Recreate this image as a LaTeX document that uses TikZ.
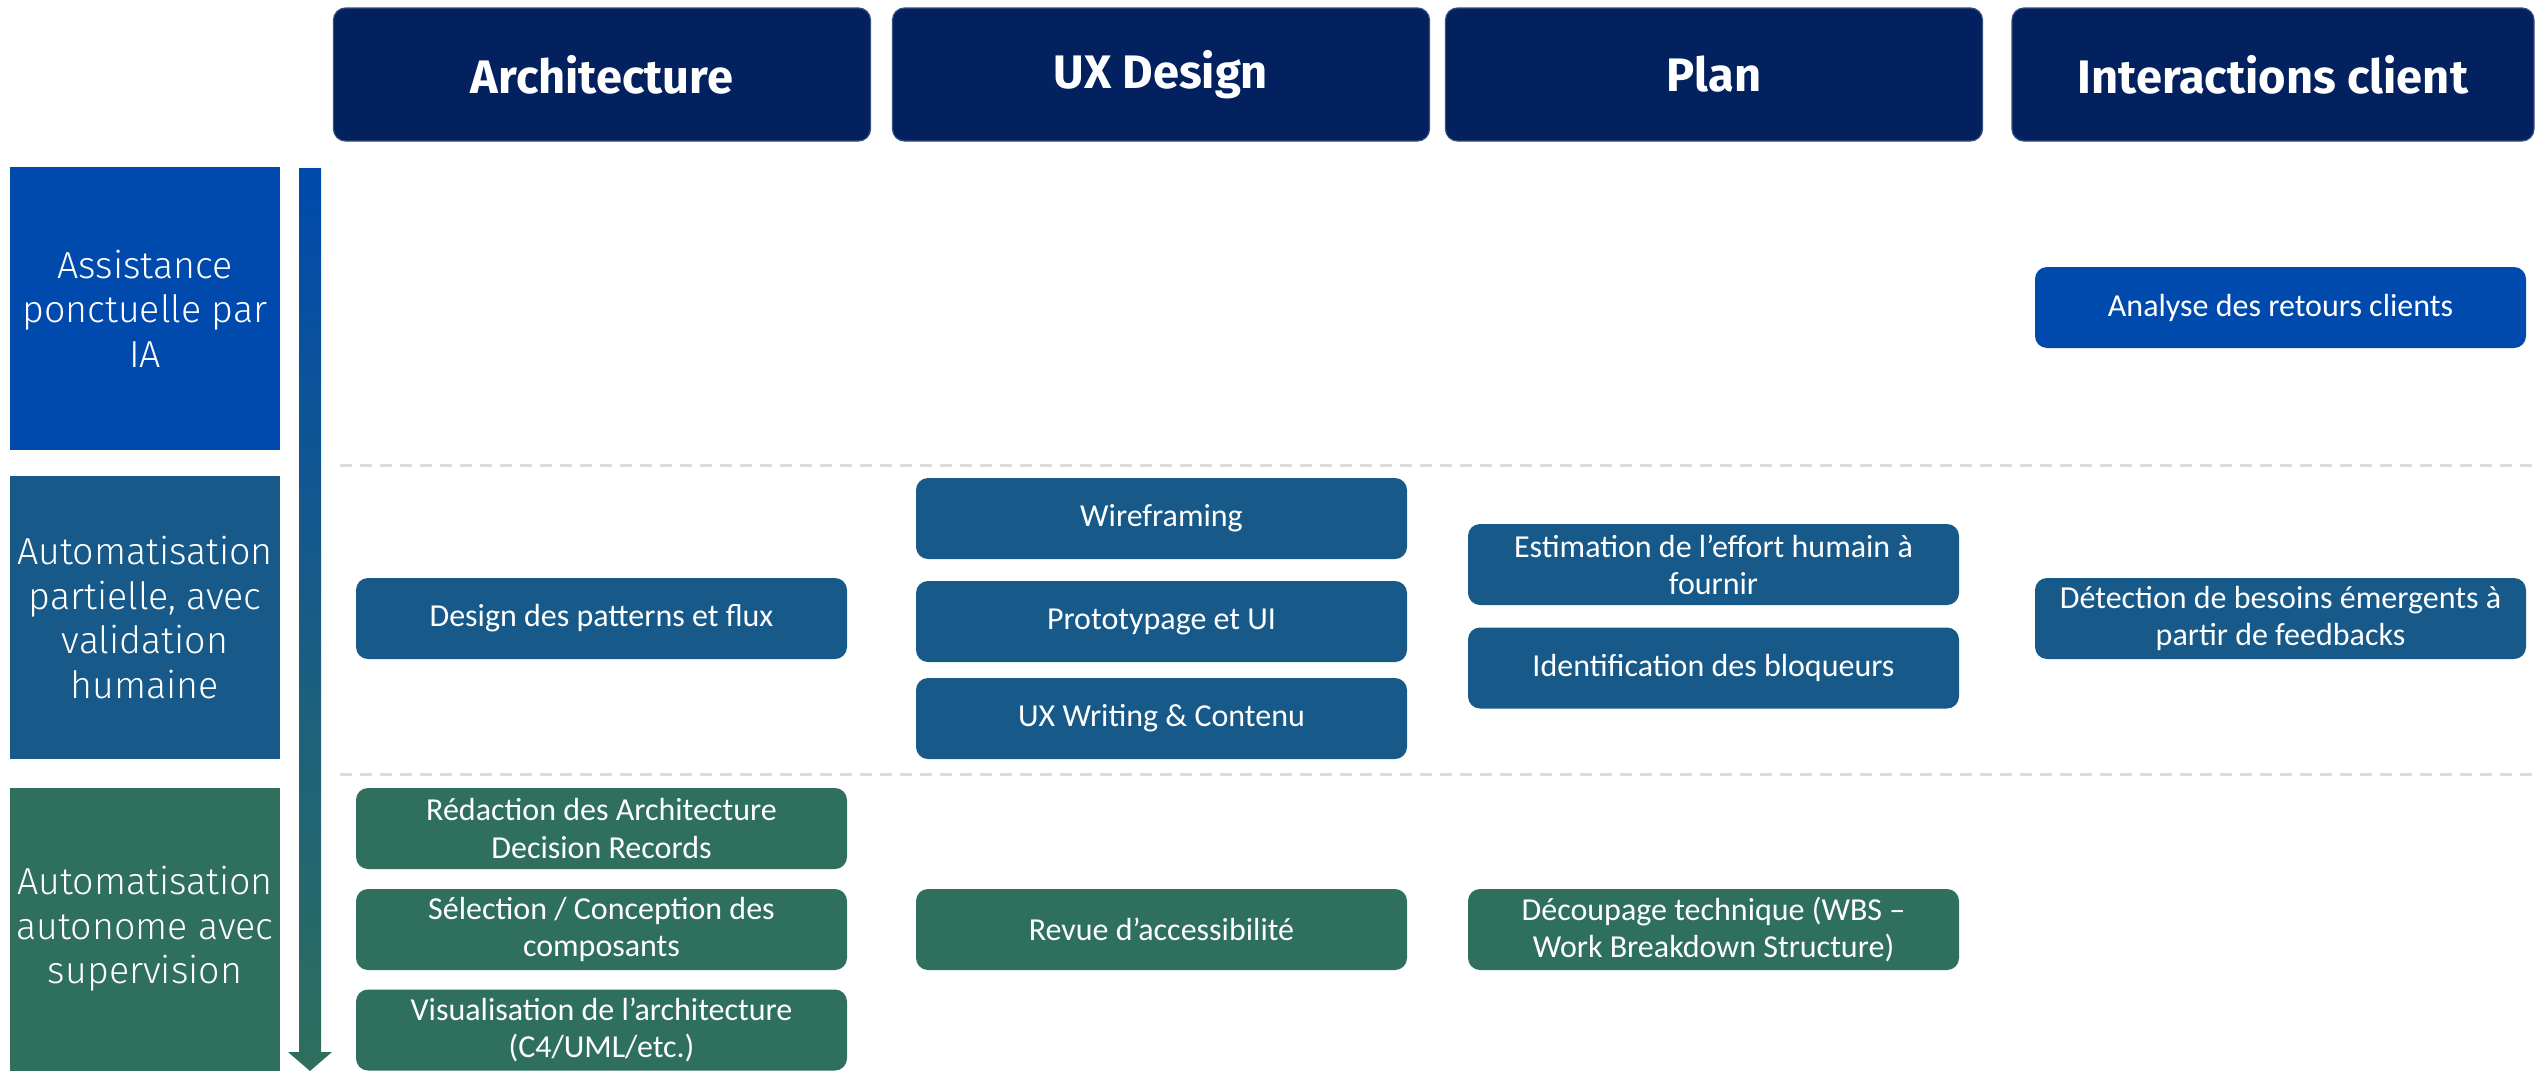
\documentclass[tikz,border=0pt]{standalone}
\usepackage{fontspec}
\setmainfont{Carlito}
\newfontfamily\headfont{Fira Sans}
\newfontfamily\lightfont{Fira Sans Light}
\definecolor{navy}{HTML}{03215F}
\definecolor{rowA}{HTML}{004AAD}
\definecolor{rowB}{HTML}{175A8A}
\definecolor{rowC}{HTML}{2F6F5D}
\definecolor{dashgray}{HTML}{DCDCDC}
\tikzset{
  header/.style={fill=navy, draw=navy!80!white, line width=0.6pt, rounded corners=6pt, minimum width=268.5pt, minimum height=66.5pt, text=white, font=\headfont\bfseries\fontsize{23.5}{27}\selectfont},
  rowlabel/.style={minimum width=135pt, minimum height=141.5pt, text=white, align=center, font=\lightfont\fontsize{18.8}{22.2}\selectfont, inner sep=0pt},
  task/.style={rounded corners=6pt, minimum width=245.5pt, minimum height=40.5pt, text=white, align=center, font=\fontsize{16}{18.6}\selectfont, inner sep=1pt},
  taskA/.style={task, fill=rowA},
  taskB/.style={task, fill=rowB},
  taskC/.style={task, fill=rowC},
  sep/.style={draw=dashgray, line width=1.5pt, dash pattern=on 6pt off 4pt}
}
\begin{document}
\begin{tikzpicture}[x=0.5pt,y=-0.5pt]
\useasboundingbox (0,0) rectangle (2539,1071);
% separators
\coordinate (s1a) at (340,465); \coordinate (s1b) at (2539,465);
\coordinate (s2a) at (340,774); \coordinate (s2b) at (2539,774);
\draw[sep] (s1a) -- (s1b);
\draw[sep] (s2a) -- (s2b);
% headers
\node[header] (hA) at (602,74.5) {Architecture};
\node[header] (hU) at (1161,74.5) {UX Design};
\node[header] (hP) at (1714,74.5) {Plan};
\node[header, minimum width=261pt] (hI) at (2273,74.5) {Interactions client};
% row labels
\node[rowlabel, fill=rowA] (r1) at (145,308.5) {Assistance\\ponctuelle par\\IA};
\node[rowlabel, fill=rowB] (r2) at (145,617.5) {Automatisation\\partielle, avec\\validation\\humaine};
\node[rowlabel, fill=rowC] (r3) at (145,929) {Automatisation\\autonome avec\\supervision};
% arrow
\shade[top color=rowA, middle color=rowB, bottom color=rowC]
  (299,168) -- (321,168) -- (321,1052) -- (332,1052) -- (310,1071) -- (288,1052) -- (299,1052) -- cycle;
% Architecture
\node[taskB] (a1) at (601.5,618.5) {Design des patterns et flux};
\node[taskC] (a2) at (601.5,828.5) {Rédaction des Architecture\\Decision Records};
\node[taskC] (a3) at (601.5,929.5) {Sélection / Conception des\\composants};
\node[taskC] (a4) at (601.5,1030) {Visualisation de l’architecture\\(C4/UML/etc.)};
% UX
\node[taskB] (u1) at (1161.5,518.5) {Wireframing};
\node[taskB] (u2) at (1161.5,621.5) {Prototypage et UI};
\node[taskB] (u3) at (1161.5,718.5) {UX Writing \& Contenu};
\node[taskC] (u4) at (1161.5,929.5) {Revue d’accessibilité};
% Plan
\node[taskB] (p1) at (1713.5,564.5) {Estimation de l’effort humain à\\fournir};
\node[taskB] (p2) at (1713.5,668) {Identification des bloqueurs};
\node[taskC] (p3) at (1713.5,929.5) {Découpage technique (WBS –\\Work Breakdown Structure)};
% Interactions
\node[taskA] (i1) at (2280.5,307.5) {Analyse des retours clients};
\node[taskB] (i2) at (2280.5,618.5) {Détection de besoins émergents à\\partir de feedbacks};
\end{tikzpicture}
\end{document}
